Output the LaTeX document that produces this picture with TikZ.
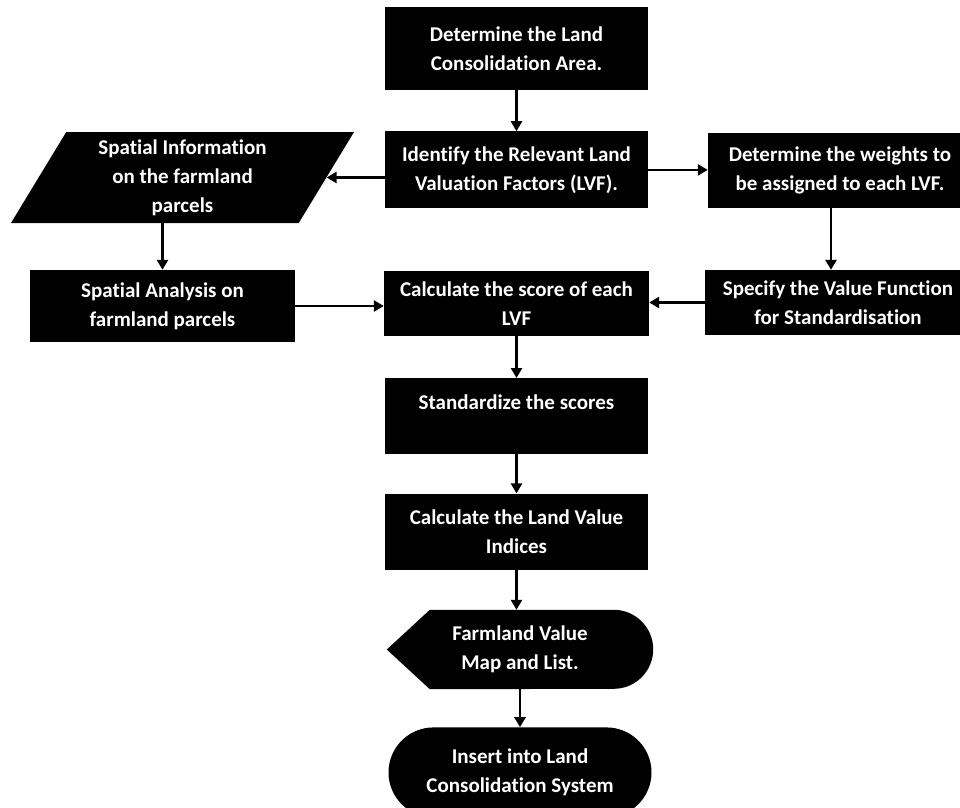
\documentclass[tikz,border=0pt]{standalone}
\usepackage{fontspec}
\setmainfont{Carlito}[Ligatures=NoCommon]
\usetikzlibrary{shapes.geometric, shapes.misc, positioning, arrows.meta, calc, backgrounds}

\begin{document}
\begin{tikzpicture}[
    x=1pt, y=1pt,
    node distance=40pt,
    box/.style={
        fill=black, text=white, font=\fontsize{21}{29}\selectfont\bfseries,
        align=center, minimum width=263pt, inner sep=0pt, anchor=center
    },
    para/.style={
        box, trapezium, trapezium left angle=54, trapezium right angle=126,
        trapezium stretches body, minimum width=343pt, minimum height=91pt
    },
    term/.style={
        box, rounded rectangle, minimum height=90pt
    },
    flow/.style={line width=2.6pt, -{Triangle[width=11pt,length=10pt]}}
]
\useasboundingbox (0,0) rectangle (960,-807);

% === Main column ===
\node[box, minimum height=83pt] (det) at (516.5,-48.5) {Determine the Land\\Consolidation Area.};
\node[box, minimum height=77pt, below=41pt of det] (ident) {Identify the Relevant Land\\Valuation Factors (LVF).};
\node[box, minimum width=265pt, minimum height=65pt, below=62pt of ident] (score) {Calculate the score of each\\LVF};
\node[box, minimum height=76pt, below=42pt of score] (std) {Standardize the scores\\\mbox{}};
\node[box, minimum height=76pt, below=39pt of std] (lvi) {Calculate the Land Value\\Indices};
\node[box, fill=none, minimum width=266pt, minimum height=79pt, below=40pt of lvi, xshift=3.5pt] (map) {Farmland Value\\Map and List.};
\node[term, below=38pt of map] (ins) {Insert into Land\\Consolidation System};

% display shape behind the map node
\begin{scope}[on background layer]
\fill (map.west) -- ([xshift=43pt]map.north west) -- ([xshift=-39.5pt]map.north east)
    arc[start angle=90, end angle=-90, radius=39.5pt] -- ([xshift=43pt]map.south west) -- cycle;
\end{scope}

% === Left branch ===
\node[para] (info) at (182.5,-177.5) {Spatial Information\\on the farmland\\parcels};
\node[box, minimum width=265pt, minimum height=72pt] (ana) at (162.5,-306) {Spatial Analysis on\\farmland parcels};

% === Right branch ===
\node[box, minimum width=264pt, minimum height=75pt] (wgt) at (840,-170.5) {Determine the weights to\\be assigned to each LVF.};
\node[box, minimum width=266pt, minimum height=65pt] (vfn) at (838,-302.5) {Specify the Value Function\\for Standardisation};

% === Connectors ===
\draw[flow] (det) -- (ident);
\draw[flow] (ident.west |- info.east) -- (info.east);
\draw[flow] (ident.east) -- (ident.east -| wgt.west);
\draw[flow] (ana.north |- info.south) -- (ana.north);
\draw[flow] ([xshift=-9pt]wgt.south) -- ([xshift=-9pt]wgt.south |- vfn.north);
\draw[flow] (ana.east) -- (ana.east -| score.west);
\draw[flow] (vfn.west) -- (vfn.west -| score.east);
\draw[flow] (score) -- (std);
\draw[flow] (std) -- (lvi);
\draw[flow] (lvi.south) -- (lvi.south |- map.north);
\draw[flow] (map.south) -- (ins.north);

\end{tikzpicture}
\end{document}
